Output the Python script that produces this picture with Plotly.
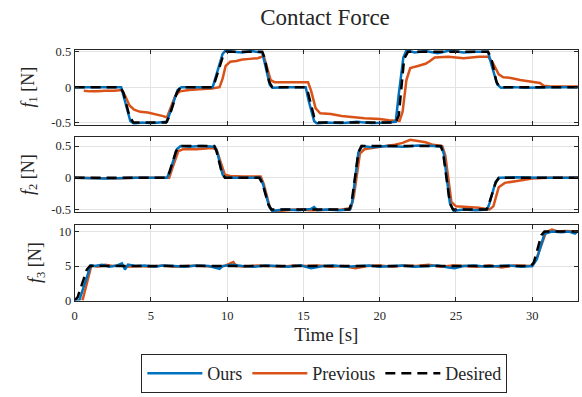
import plotly.graph_objects as go

# ---------------- data ----------------
# f1
t_f1_des = [0, 3.0, 3.2, 3.6, 3.85, 6.0, 6.2, 6.7, 6.95, 9.0, 9.2, 9.7, 9.95, 12.3, 12.45, 12.75, 12.95, 15.1, 15.3, 15.7, 15.95, 21.05, 21.25, 21.6, 21.85, 27.1, 27.3, 27.65, 27.85, 33]
v_f1_des = [0, 0, -0.08, -0.42, -0.5, -0.5, -0.42, -0.08, 0, 0, 0.08, 0.42, 0.5, 0.5, 0.42, 0.08, 0, 0, -0.08, -0.42, -0.5, -0.5, -0.4, 0.4, 0.5, 0.5, 0.42, 0.08, 0, 0]

t_f1_ours = [0, 3.05, 3.3, 3.65, 3.9, 4.4, 5.0, 5.6, 6.05, 6.35, 6.75, 7.0, 8.0, 9.05, 9.3, 9.7, 9.9, 10.4, 11.0, 11.6, 12.3, 12.5, 12.8, 13.0, 14.0, 15.15, 15.35, 15.7, 15.9, 16.5, 17.5, 18.5, 19.5, 20.5, 21.05, 21.25, 21.55, 21.75, 22.3, 23.0, 23.8, 24.6, 25.5, 26.3, 27.1, 27.35, 27.7, 27.95, 28.8, 29.5, 30.5, 31.5, 33]
v_f1_ours = [0, 0, -0.2, -0.48, -0.52, -0.5, -0.51, -0.5, -0.49, -0.3, -0.04, 0.0, 0.0, 0.0, 0.18, 0.47, 0.52, 0.5, 0.49, 0.51, 0.49, 0.3, 0.03, -0.01, 0.0, 0.0, -0.2, -0.48, -0.52, -0.5, -0.51, -0.49, -0.51, -0.5, -0.49, -0.1, 0.42, 0.52, 0.49, 0.51, 0.48, 0.52, 0.49, 0.5, 0.5, 0.3, 0.04, -0.01, 0.0, -0.01, 0.0, 0.0, 0.0]

t_f1_prev = [0.6, 1.0, 1.5, 2.0, 2.6, 3.1, 3.3, 3.6, 3.9, 4.3, 4.8, 5.3, 5.8, 6.05, 6.3, 6.6, 6.9, 7.5, 8.2, 9.0, 9.5, 9.7, 9.9, 10.2, 10.6, 11.0, 11.5, 12.0, 12.4, 12.6, 12.85, 13.1, 14.0, 15.3, 15.5, 15.8, 16.1, 16.8, 17.5, 18.3, 19.0, 20.0, 20.6, 21.3, 21.5, 21.75, 22.0, 22.5, 23.0, 23.3, 23.6, 24.5, 25.5, 26.5, 27.1, 27.4, 27.8, 28.1, 28.6, 29.2, 29.8, 30.5, 30.75, 31.2, 32.0, 33]
v_f1_prev = [-0.05, -0.06, -0.06, -0.05, -0.05, -0.04, -0.12, -0.26, -0.32, -0.35, -0.36, -0.38, -0.41, -0.43, -0.3, -0.12, -0.06, -0.04, -0.03, -0.02, 0.0, 0.12, 0.3, 0.36, 0.37, 0.39, 0.4, 0.41, 0.44, 0.3, 0.1, 0.07, 0.07, 0.07, -0.05, -0.3, -0.37, -0.38, -0.41, -0.43, -0.44, -0.45, -0.47, -0.48, -0.35, 0.1, 0.27, 0.3, 0.33, 0.37, 0.42, 0.43, 0.41, 0.43, 0.43, 0.35, 0.18, 0.14, 0.13, 0.1, 0.08, 0.06, 0.02, 0.01, 0.01, 0.01]

# f2
t_f2_des = [0, 6.0, 6.2, 6.65, 6.9, 9.15, 9.3, 9.65, 9.85, 12.1, 12.3, 12.7, 12.9, 18.0, 18.15, 18.6, 18.8, 24.0, 24.15, 24.6, 24.8, 27.0, 27.15, 27.6, 27.8, 33]
v_f2_des = [0, 0, 0.08, 0.42, 0.5, 0.5, 0.42, 0.08, 0, 0, -0.08, -0.42, -0.5, -0.5, -0.4, 0.4, 0.5, 0.5, 0.4, -0.4, -0.5, -0.5, -0.42, -0.08, 0, 0]

t_f2_ours = [0, 2.0, 4.0, 6.05, 6.25, 6.7, 6.95, 7.5, 8.3, 9.2, 9.35, 9.7, 9.9, 11.0, 12.15, 12.35, 12.75, 12.95, 13.8, 14.7, 15.5, 15.7, 15.9, 16.5, 17.3, 18.05, 18.2, 18.6, 18.85, 19.5, 20.5, 21.5, 22.5, 23.5, 24.05, 24.2, 24.6, 24.85, 25.5, 26.3, 27.05, 27.2, 27.6, 27.85, 29.0, 30.5, 33]
v_f2_ours = [0, -0.01, 0.0, 0.0, 0.1, 0.45, 0.5, 0.49, 0.5, 0.49, 0.4, 0.05, 0.0, 0.0, 0.0, -0.1, -0.45, -0.52, -0.5, -0.51, -0.49, -0.46, -0.51, -0.5, -0.51, -0.5, -0.38, 0.4, 0.5, 0.48, 0.5, 0.49, 0.51, 0.5, 0.49, 0.38, -0.4, -0.52, -0.5, -0.51, -0.5, -0.4, -0.06, 0.0, 0.01, 0.0, 0.0]

t_f2_prev = [0, 2.5, 4.0, 5.5, 6.2, 6.4, 6.8, 7.1, 8.0, 9.0, 9.3, 9.5, 9.85, 10.2, 11.0, 12.2, 12.4, 12.8, 13.0, 13.5, 14.5, 15.5, 16.5, 17.5, 18.1, 18.3, 18.7, 19.0, 19.8, 20.5, 21.0, 21.5, 22.0, 22.5, 23.0, 23.5, 24.1, 24.3, 24.7, 25.0, 25.8, 26.5, 27.2, 27.45, 27.8, 28.2, 29.0, 30.0, 31.0, 33]
v_f2_prev = [0, -0.01, 0.0, 0.0, 0.0, 0.15, 0.42, 0.45, 0.45, 0.47, 0.45, 0.3, 0.05, 0.03, 0.02, 0.02, -0.1, -0.47, -0.53, -0.52, -0.5, -0.51, -0.5, -0.5, -0.48, -0.3, 0.38, 0.45, 0.48, 0.5, 0.52, 0.55, 0.6, 0.58, 0.56, 0.52, 0.5, 0.35, -0.38, -0.45, -0.46, -0.47, -0.5, -0.45, -0.15, -0.08, -0.05, -0.01, 0.0, 0.0]

# f3
t_f3_des = [0, 0.2, 0.8, 1.0, 29.9, 30.1, 30.6, 30.8, 33]
v_f3_des = [0, 0.5, 4.5, 5.0, 5.0, 5.5, 9.5, 10.0, 10.0]

t_f3_ours = [0, 0.3, 1.05, 1.3, 1.8, 2.3, 2.8, 3.1, 3.3, 3.5, 4.0, 4.6, 5.2, 5.8, 6.5, 7.2, 8.0, 8.8, 9.5, 9.7, 10.3, 11.0, 11.8, 12.5, 13.3, 14.0, 14.8, 15.5, 16.3, 17.0, 17.8, 18.5, 19.3, 20.0, 20.8, 21.5, 22.3, 23.0, 23.8, 24.5, 24.9, 25.5, 26.2, 27.0, 27.8, 28.5, 29.3, 30.0, 30.3, 30.8, 31.3, 31.9, 32.4, 32.8, 33]
v_f3_ours = [0, 0, 5.1, 5.0, 5.2, 4.9, 5.1, 5.4, 4.5, 5.2, 5.0, 5.1, 4.9, 5.1, 5.0, 4.9, 5.1, 5.0, 4.6, 5.0, 5.2, 5.0, 4.9, 5.1, 5.0, 4.9, 5.1, 4.7, 5.0, 5.1, 4.9, 5.0, 5.1, 4.9, 5.0, 5.1, 4.9, 5.0, 5.1, 4.8, 4.7, 5.0, 5.1, 4.9, 5.0, 5.1, 4.9, 5.0, 6.0, 9.7, 10.0, 9.9, 10.0, 9.7, 10.1]

t_f3_prev = [0.5, 0.55, 1.1, 1.5, 2.0, 2.5, 3.0, 3.5, 4.2, 5.0, 5.8, 6.6, 7.4, 8.2, 9.0, 9.8, 10.4, 10.6, 11.2, 12.0, 12.8, 13.6, 14.4, 15.2, 16.0, 16.8, 17.6, 18.4, 19.2, 20.0, 20.8, 21.6, 22.4, 23.2, 24.0, 24.8, 25.6, 26.4, 27.2, 28.0, 28.8, 29.6, 30.0, 30.3, 30.9, 31.3, 31.7, 32.2, 33]
v_f3_prev = [0, 0.3, 5.1, 4.9, 5.2, 5.0, 5.1, 4.9, 5.0, 4.9, 5.1, 4.9, 5.0, 5.1, 4.9, 5.0, 5.6, 5.0, 4.9, 5.1, 5.0, 4.9, 5.1, 5.0, 5.1, 4.9, 5.0, 4.7, 5.0, 5.1, 4.9, 5.1, 5.0, 5.2, 4.9, 5.1, 5.0, 4.9, 5.1, 4.8, 5.1, 5.0, 5.0, 6.2, 9.9, 10.3, 10.0, 10.1, 10.0]

x_ticks = [0, 5, 10, 15, 20, 25, 30]
y_ticks_f12 = [-0.5, 0, 0.5]
y_tick_text_f12 = ["-0.5", "0", "0.5"]
y_ticks_f3 = [0, 5, 10]

# ---------------- figure ----------------
BLUE = "#0072BD"
ORANGE = "#D95319"
FONT = "Liberation Serif"
W, H = 582, 397

fig = go.Figure()

panels = [
    (t_f1_ours, v_f1_ours, t_f1_prev, v_f1_prev, t_f1_des, v_f1_des),
    (t_f2_ours, v_f2_ours, t_f2_prev, v_f2_prev, t_f2_des, v_f2_des),
    (t_f3_ours, v_f3_ours, t_f3_prev, v_f3_prev, t_f3_des, v_f3_des),
]

for i, (to, vo, tp, vp, td, vd) in enumerate(panels):
    xa = "x" if i == 0 else f"x{i+1}"
    ya = "y" if i == 0 else f"y{i+1}"
    show = i == 0
    fig.add_trace(go.Scatter(x=tp, y=vp, mode="lines", name="Previous", legendrank=2,
                             line=dict(color=ORANGE, width=2.5), xaxis=xa, yaxis=ya, showlegend=show))
    fig.add_trace(go.Scatter(x=to, y=vo, mode="lines", name="Ours", legendrank=1,
                             line=dict(color=BLUE, width=2.5), xaxis=xa, yaxis=ya, showlegend=show))
    fig.add_trace(go.Scatter(x=td, y=vd, mode="lines", name="Desired", legendrank=3,
                             line=dict(color="black", width=2.5, dash="10px,6px"), xaxis=xa, yaxis=ya, showlegend=show))

def py(top, bot):
    return [(H - bot) / H, (H - top) / H]

xdom = [72 / W, 578 / W]
ydoms = [py(47, 124), py(137, 214), py(227, 305)]
yranges = [[-0.53, 0.53], [-0.54, 0.64], [0, 11]]

common_axis = dict(showline=True, linecolor="#262626", linewidth=1, mirror="ticks",
                   ticks="inside", ticklen=4, tickcolor="#262626",
                   showgrid=True, gridcolor="#E3E3E3", gridwidth=1, zeroline=False,
                   tickfont=dict(family=FONT, size=12.5, color="#262626"))

for i in range(3):
    xkey = "xaxis" if i == 0 else f"xaxis{i+1}"
    ykey = "yaxis" if i == 0 else f"yaxis{i+1}"
    xa = dict(common_axis, domain=xdom, range=[0, 33], tickvals=x_ticks,
              anchor="y" if i == 0 else f"y{i+1}", showticklabels=(i == 2))
    if i == 2:
        xa["ticklabelstandoff"] = 3
        xa["title"] = dict(text="Time [s]", font=dict(family=FONT, size=19, color="#262626"), standoff=6)
    ya = dict(common_axis, domain=ydoms[i], range=yranges[i],
              anchor="x" if i == 0 else f"x{i+1}",
              title=dict(text=f"<i>f</i><sub>{i+1}</sub> [N]", font=dict(family=FONT, size=18, color="#262626"), standoff=12))
    if i < 2:
        ya["tickvals"] = y_ticks_f12
        ya["ticktext"] = y_tick_text_f12
    else:
        ya["tickvals"] = y_ticks_f3
    fig.layout[xkey] = xa
    fig.layout[ykey] = ya

fig.update_layout(
    width=W, height=H,
    margin=dict(l=0, r=0, t=0, b=0),
    paper_bgcolor="white", plot_bgcolor="white",
    title=dict(text="Contact Force", x=(72 + 578) / 2 / W, xanchor="center",
               y=1 - 17 / H, yanchor="middle",
               font=dict(family=FONT, size=23, color="#262626")),
    legend=dict(orientation="h", x=323 / W, xanchor="center", y=1 - 380 / H, yanchor="middle",
                bordercolor="#262626", borderwidth=1, bgcolor="white",
                font=dict(family=FONT, size=18, color="#262626"),
                itemwidth=55, tracegroupgap=0, entrywidth=0),
    showlegend=True,
)

fig.write_html("out.html")
